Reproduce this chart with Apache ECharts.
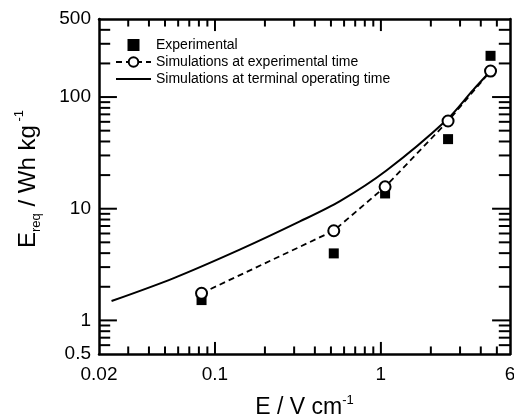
<!DOCTYPE html>
<html>
<head>
<meta charset="utf-8">
<script src="https://cdn.jsdelivr.net/npm/echarts@6/dist/echarts.min.js"></script>
<style>
html, body { margin: 0; padding: 0; background: #fff; }
#main { width: 514px; height: 417px; }
</style>
</head>
<body>
<div id="main"></div>
<script>
// values
var expX = [0.083, 0.52, 1.06, 2.54, 4.58];
var expY = [1.52, 3.98, 13.7, 42, 234];
var simExpX = [0.083, 0.52, 1.06, 2.54, 4.58];
var simExpY = [1.75, 6.35, 15.7, 61, 171];
var simTermX = [0.0238, 0.056, 0.141, 0.325, 0.567, 1.08, 2.48, 3.6, 4.6];
var simTermY = [1.49, 2.38, 4.3, 7.7, 11.7, 22, 62, 116, 172];

var xTickLabels = [0.02, 0.1, 1, 6];
var yTickLabels = [0.5, 1, 10, 100, 500];
var xMajorTicks = [0.1, 1];
var xMinorTicks = [0.03, 0.04, 0.05, 0.06, 0.07, 0.08, 0.09, 0.2, 0.3, 0.4, 0.5, 0.6, 0.7, 0.8, 0.9, 2, 3, 4, 5];
var yMajorTicks = [1, 10, 100];
var yMinorTicks = [0.6, 0.7, 0.8, 0.9, 2, 3, 4, 5, 6, 7, 8, 9, 20, 30, 40, 50, 60, 70, 80, 90, 200, 300, 400];

var names = ['Experimental', 'Simulations at experimental time', 'Simulations at terminal operating time'];

function zip(a, b) {
    return a.map(function (v, i) { return [v, b[i]]; });
}

function inList(v, list) {
    for (var i = 0; i < list.length; i++) {
        if (Math.abs(v - list[i]) / list[i] < 1e-6) return true;
    }
    return false;
}

var xMin = xTickLabels[0], xMax = xTickLabels[xTickLabels.length - 1];
var yMin = yTickLabels[0], yMax = yTickLabels[yTickLabels.length - 1];

// tick lengths as fractions of a decade on each log axis (major, minor)
var xTickDec = [0.048, 0.030];
var yTickDec = [0.072, 0.045];

var font = 'Liberation Sans, Arial, sans-serif';
var myChart = echarts.init(document.getElementById('main'));

// each tick is a short two-point line series running inward from the frame
function tickLine(p1, p2) {
    return {
        name: names[2],
        type: 'line',
        data: [p1, p2],
        symbol: 'none',
        clip: false,
        silent: true,
        lineStyle: { color: '#000', width: 2 },
        emphasis: { disabled: true },
        z: 6
    };
}

var tickSeriesList = [];
[[xMajorTicks, xTickDec[0] * 1.5], [xMinorTicks, xTickDec[1] * 1.5]].forEach(function (t) {
    var f = Math.pow(10, t[1] * 1.5);
    t[0].forEach(function (v) {
        tickSeriesList.push(tickLine([v, yMin * 1.0001], [v, yMin * f]));
        tickSeriesList.push(tickLine([v, yMax / 1.0001], [v, yMax / f]));
    });
});
[[yMajorTicks, yTickDec[0]], [yMinorTicks, yTickDec[1]]].forEach(function (t) {
    var f = Math.pow(10, t[1] * 1.5);
    t[0].forEach(function (v) {
        tickSeriesList.push(tickLine([xMin * 1.0001, v], [xMin * f, v]));
        tickSeriesList.push(tickLine([xMax / 1.0001, v], [xMax / f, v]));
    });
});

function logAxis(position, min, max) {
    return {
        type: 'log',
        logBase: 10,
        position: position,
        min: min,
        max: max,
        splitLine: { show: false },
        axisLabel: { show: false },
        axisTick: { show: false },
        axisLine: { onZero: false, lineStyle: { color: '#000', width: 2.5 } }
    };
}

var xBottom = logAxis('bottom', xMin, xMax);
xBottom.axisLabel = {
    show: true, color: '#000', fontFamily: font, fontSize: 19, margin: 11,
    formatter: function (v) { return inList(v, xTickLabels) ? String(+v.toPrecision(3)) : ''; }
};
xBottom.name = '{b|E / V cm}{sup|-1}';
xBottom.nameLocation = 'middle';
xBottom.nameGap = 40;
xBottom.nameTextStyle = {
    rich: {
        b: { fontFamily: font, fontSize: 23, color: '#000', lineHeight: 28 },
        sup: { fontFamily: font, fontSize: 13, color: '#000', verticalAlign: 'top', lineHeight: 13 }
    }
};

var yLeft = logAxis('left', yMin, yMax);
yLeft.axisLabel = {
    show: true, color: '#000', fontFamily: font, fontSize: 19, margin: 8,
    formatter: function (v) { return inList(v, yTickLabels) ? String(+v.toPrecision(3)) : ''; }
};
yLeft.name = '{b|E}{sub|req}{b| / Wh kg}{sup| -1}';
yLeft.nameLocation = 'middle';
yLeft.nameRotate = 90;
yLeft.nameGap = 56;
yLeft.nameTextStyle = {
    padding: [0, 0, 0, 15],
    rich: {
        b: { fontFamily: font, fontSize: 24, color: '#000', lineHeight: 30 },
        sub: { fontFamily: font, fontSize: 13, color: '#000', verticalAlign: 'bottom', lineHeight: 13 },
        sup: { fontFamily: font, fontSize: 13, color: '#000', verticalAlign: 'top', lineHeight: 13 }
    }
};

myChart.setOption({
    animation: false,
    backgroundColor: '#fff',
    grid: { left: 99, right: 4, top: 19, bottom: 63, outerBoundsMode: 'none', containLabel: false },
    legend: {
        data: [
            { name: names[0], icon: 'path://M0,0h10v10h-10z' },
            { name: names[1] },
            { name: names[2], itemStyle: { opacity: 0 } }
        ],
        orient: 'vertical',
        left: 115,
        top: 38,
        padding: 0,
        itemWidth: 35,
        itemHeight: 12,
        itemGap: 3,
        selectedMode: false,
        textStyle: { fontFamily: font, fontSize: 14, color: '#000' }
    },
    xAxis: [xBottom, logAxis('top', xMin, xMax)],
    yAxis: [yLeft, logAxis('right', yMin, yMax)],
    series: [
        {
            name: names[2],
            type: 'line',
            data: zip(simTermX, simTermY),
            smooth: 0.3,
            symbol: 'none',
            lineStyle: { color: '#000', width: 2 },
            itemStyle: { color: '#000' },
            z: 2
        },
        {
            name: names[0],
            type: 'scatter',
            data: zip(expX, expY),
            symbol: 'rect',
            symbolSize: 10,
            itemStyle: { color: '#000', opacity: 1 },
            z: 3
        },
        {
            name: names[1],
            type: 'line',
            data: zip(simExpX, simExpY),
            symbol: 'circle',
            symbolSize: 11,
            showAllSymbol: true,
            lineStyle: { color: '#000', width: 1.8, type: [6, 4] },
            itemStyle: { color: '#fff', borderColor: '#000', borderWidth: 2 },
            z: 4
        }
    ].concat(tickSeriesList)
});
</script>
</body>
</html>
